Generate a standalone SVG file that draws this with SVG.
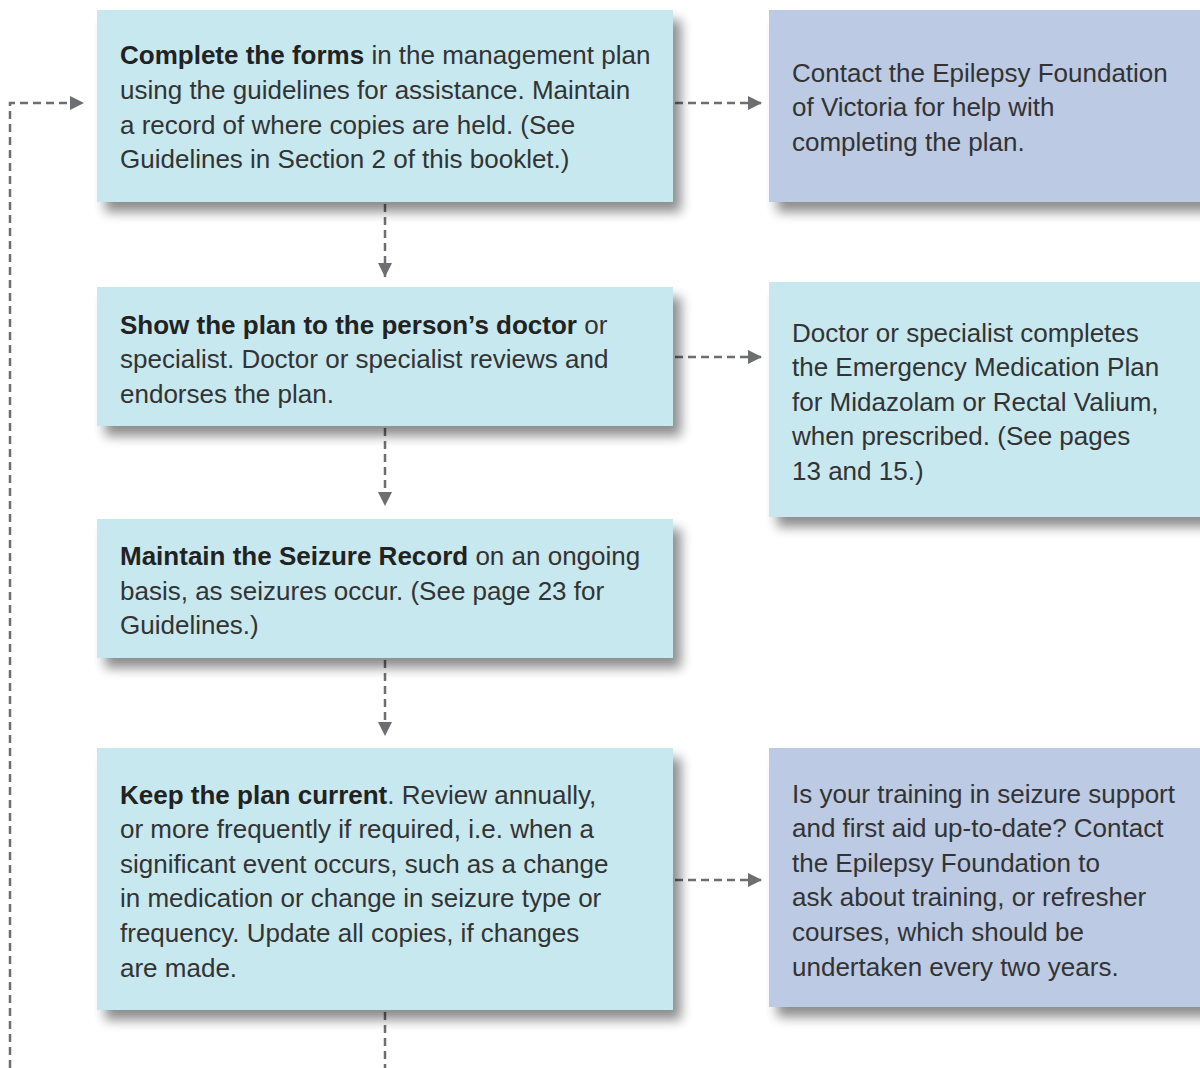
<svg xmlns="http://www.w3.org/2000/svg" width="1200" height="1068" viewBox="0 0 1200 1068">
<defs>
<filter id="sh" x="-10%" y="-20%" width="130%" height="150%">
<feGaussianBlur in="SourceAlpha" stdDeviation="6"/>
<feOffset dx="8" dy="10" result="b"/>
<feComponentTransfer><feFuncA type="linear" slope="0.45"/></feComponentTransfer>
<feMerge><feMergeNode/><feMergeNode in="SourceGraphic"/></feMerge>
</filter>
<marker id="ah" viewBox="0 0 10 10" refX="10" refY="5" markerWidth="14" markerHeight="14" markerUnits="userSpaceOnUse" orient="auto">
<path d="M0,0 L10,5 L0,10 Z" fill="#6d6e71"/>
</marker>
</defs>
<style>
.lb{fill:#c7e8ef}
.pb{fill:#bccae3}
text{font-family:"Liberation Sans",Arial,sans-serif;font-size:26px;fill:#333333}
.b{font-weight:bold;fill:#222222}
.c{fill:none;stroke:#6d6e71;stroke-width:2.5;stroke-dasharray:8 5}
</style>
<rect width="1200" height="1068" fill="#ffffff"/>
<g id="connectors">
<path class="c" d="M10,1068 V103 H84" marker-end="url(#ah)"/>
<path class="c" d="M385,204 V277" marker-end="url(#ah)"/>
<path class="c" d="M385,428 V506" marker-end="url(#ah)"/>
<path class="c" d="M385,660 V736" marker-end="url(#ah)"/>
<path class="c" d="M385,1012 V1068"/>
<path class="c" d="M675,103 H762" marker-end="url(#ah)"/>
<path class="c" d="M675,357 H762" marker-end="url(#ah)"/>
<path class="c" d="M675,880 H762" marker-end="url(#ah)"/>
</g>
<g id="n1">
<rect class="lb" x="97" y="10" width="576" height="192" filter="url(#sh)"/>
<text x="120" y="64"><tspan class="b">Complete the forms</tspan> in the management plan</text>
<text x="120" y="99">using the guidelines for assistance. Maintain</text>
<text x="120" y="134">a record of where copies are held. (See</text>
<text x="120" y="168">Guidelines in Section 2 of this booklet.)</text>
</g>
<g id="n2">
<rect class="lb" x="97" y="287" width="576" height="139" filter="url(#sh)"/>
<text x="120" y="334"><tspan class="b">Show the plan to the person’s doctor</tspan> or</text>
<text x="120" y="368">specialist. Doctor or specialist reviews and</text>
<text x="120" y="403">endorses the plan.</text>
</g>
<g id="n3">
<rect class="lb" x="97" y="519" width="576" height="139" filter="url(#sh)"/>
<text x="120" y="565"><tspan class="b">Maintain the Seizure Record</tspan> on an ongoing</text>
<text x="120" y="600">basis, as seizures occur. (See page 23 for</text>
<text x="120" y="634">Guidelines.)</text>
</g>
<g id="n4">
<rect class="lb" x="97" y="748" width="576" height="262" filter="url(#sh)"/>
<text x="120" y="804"><tspan class="b">Keep the plan current</tspan>. Review annually,</text>
<text x="120" y="838">or more frequently if required, i.e. when a</text>
<text x="120" y="873">significant event occurs, such as a change</text>
<text x="120" y="907">in medication or change in seizure type or</text>
<text x="120" y="942">frequency. Update all copies, if changes</text>
<text x="120" y="977">are made.</text>
</g>
<g id="r1">
<rect class="pb" x="769" y="10" width="440" height="192" filter="url(#sh)"/>
<text x="792" y="82">Contact the Epilepsy Foundation</text>
<text x="792" y="116">of Victoria for help with</text>
<text x="792" y="151">completing the plan.</text>
</g>
<g id="r2">
<rect class="lb" x="769" y="282" width="440" height="235" filter="url(#sh)"/>
<text x="792" y="342">Doctor or specialist completes</text>
<text x="792" y="376">the Emergency Medication Plan</text>
<text x="792" y="411">for Midazolam or Rectal Valium,</text>
<text x="792" y="445">when prescribed. (See pages</text>
<text x="792" y="480">13 and 15.)</text>
</g>
<g id="r3">
<rect class="pb" x="769" y="748" width="440" height="259" filter="url(#sh)"/>
<text x="792" y="803">Is your training in seizure support</text>
<text x="792" y="837">and first aid up-to-date? Contact</text>
<text x="792" y="872">the Epilepsy Foundation to</text>
<text x="792" y="906">ask about training, or refresher</text>
<text x="792" y="941">courses, which should be</text>
<text x="792" y="976">undertaken every two years.</text>
</g>
</svg>
